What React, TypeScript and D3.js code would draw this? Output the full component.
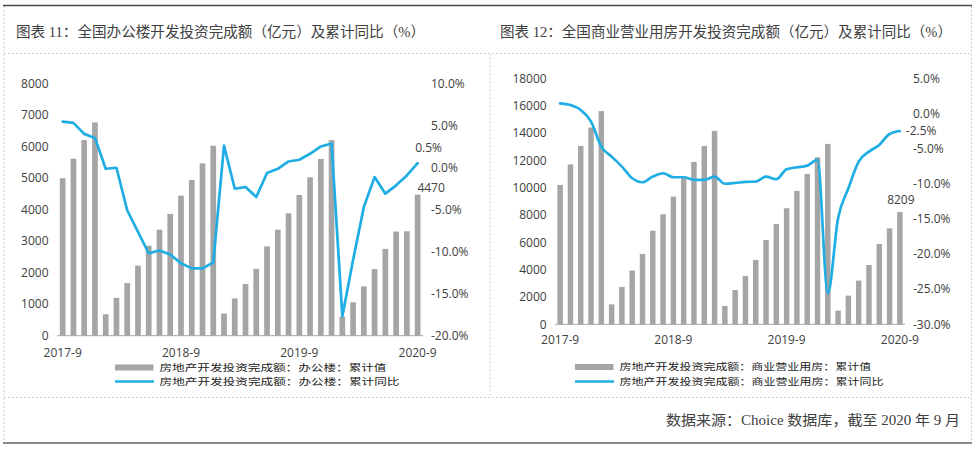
import React from "react";
import * as d3 from "d3";

const categories = [
  "2017-9", "2017-10", "2017-11", "2017-12",
  "2018-2", "2018-3", "2018-4", "2018-5", "2018-6", "2018-7", "2018-8", "2018-9", "2018-10", "2018-11", "2018-12",
  "2019-2", "2019-3", "2019-4", "2019-5", "2019-6", "2019-7", "2019-8", "2019-9", "2019-10", "2019-11", "2019-12",
  "2020-2", "2020-3", "2020-4", "2020-5", "2020-6", "2020-7", "2020-8", "2020-9",
];
const tickLabels = ["2017-9", "2018-9", "2019-9", "2020-9"];

const officeValue = [
  4990, 5610, 6200, 6760,
  680, 1200, 1670, 2220, 2850, 3360, 3860, 4440, 4940, 5460, 6020,
  700, 1180, 1640, 2120, 2830, 3360, 3880, 4460, 5020, 5600, 6200,
  600, 1060, 1560, 2110, 2750, 3300, 3310, 4470,
];
const officeYoY = [
  5.45, 5.29, 3.99, 3.51,
  -0.16, -0.04, -5.09, -7.66, -10.2, -9.87, -10.34, -11.4, -12.0, -12.0, -11.3,
  2.6, -2.53, -2.33, -3.51, -0.67, -0.16, 0.71, 0.91, 1.62, 2.49, 2.85,
  -17.7, -11.0, -4.7, -1.15, -3.12, -2.13, -0.95, 0.5,
];

const commValue = [
  10200, 11700, 13050, 14400, 15600,
  1460, 2730, 3930, 5150, 6850, 8050, 9340, 10680, 11880, 13050, 14150,
  1340, 2510, 3540, 4710, 6170, 7340, 8490, 9760, 11000, 12220, 13200,
  1000, 2100, 3200, 4340, 5880, 7020, 8209,
];
const commYoY = [
  1.44, 1.2, 0.49, -1.17, -4.72,
  -6.14, -7.56, -9.22, -9.79, -8.98, -8.51, -9.08, -9.08, -9.46, -9.46, -8.98,
  -10.0, -9.9, -9.74, -9.7, -8.98, -9.36, -7.94, -7.66, -7.42, -6.62, -25.6,
  -14.9, -10.65, -6.85, -5.43, -4.48, -2.92, -2.5,
];

const officeLeftTicks = [0, 1000, 2000, 3000, 4000, 5000, 6000, 7000, 8000];
const officeRightTicks = [10, 5, 0, -5, -10, -15, -20];
const commLeftTicks = [0, 2000, 4000, 6000, 8000, 10000, 12000, 14000, 16000, 18000];
const commRightTicks = [5, 0, -5, -10, -15, -20, -25, -30];

const titles = [
  "图表 11：全国办公楼开发投资完成额（亿元）及累计同比（%）",
  "图表 12：全国商业营业用房开发投资完成额（亿元）及累计同比（%）",
];
const legendOffice = ["房地产开发投资完成额：办公楼：累计值", "房地产开发投资完成额：办公楼：累计同比"];
const legendComm = ["房地产开发投资完成额：商业营业用房：累计值", "房地产开发投资完成额：商业营业用房：累计同比"];
const footer = "数据来源：Choice 数据库，截至 2020 年 9 月";

const BAR = "#a5a5a5";
const LINE = "#1eaee4";
const TXT = "#404040";
const AXF = "'Open Sans', 'Noto Sans', sans-serif";
const CJK = "'Noto Sans CJK SC', sans-serif";
const SERIF = "'Liberation Serif', 'Noto Sans CJK SC', serif";

const pct = (v: number) => v.toFixed(1) + "%";

type PanelProps = {
  values: number[];
  yoy: number[];
  x0: number; x1: number;
  yTop: number; yBot: number;
  leftDomain: [number, number];
  rightDomain: [number, number];
  leftTicks: number[];
  rightTicks: number[];
  leftLabelX: number;
  rightLabelX: number;
  tickY: number;
  curve: any;
  legend: string[];
  legendX: number;
  legendTextLen: number[];
  legendY: number[];
  lineLabel: { dx: number; dy: number; anchor: string };
  barLabel: { dx: number; dy: number };
};

function Panel(p: PanelProps) {
  const x = d3.scaleBand<string>().domain(categories).range([p.x0, p.x1]).padding(0);
  const step = x.step();
  const bw = step * 0.53;
  const cx = (i: number) => (x(categories[i]) as number) + step / 2;
  const yL = d3.scaleLinear().domain(p.leftDomain).range([p.yBot, p.yTop]);
  const yR = d3.scaleLinear().domain(p.rightDomain).range([p.yBot, p.yTop]);
  const line = d3.line<number>().x((_, i) => cx(i)).y((d) => yR(d)).curve(p.curve);
  const last = categories.length - 1;
  const tickIdx = tickLabels.map((t) => categories.indexOf(t));
  return (
    <g>
      {p.values.map((v, i) => (
        <rect key={i} x={cx(i) - bw / 2} y={yL(v)} width={bw} height={yL(0) - yL(v)} fill={BAR} />
      ))}
      <line x1={p.x0} x2={p.x1} y1={yL(0)} y2={yL(0)} stroke="#a6a6a6" strokeWidth={1} />
      <path d={line(p.yoy) || ""} fill="none" stroke={LINE} strokeWidth={2.7} strokeLinejoin="round" strokeLinecap="round" />
      {p.leftTicks.map((t) => (
        <text key={t} x={p.leftLabelX} y={yL(t)} dy="0.35em" textAnchor="end" fontFamily={AXF} fontSize={12} fill={TXT}>{t}</text>
      ))}
      {p.rightTicks.map((t) => (
        <text key={t} x={p.rightLabelX} y={yR(t)} dy="0.35em" textAnchor="start" fontFamily={AXF} fontSize={12} fill={TXT}>{pct(t)}</text>
      ))}
      {tickIdx.map((i, k) => (
        <text key={k} x={cx(i)} y={p.tickY} dy="0.35em" textAnchor="middle" fontFamily={AXF} fontSize={12} fill={TXT}>{tickLabels[k]}</text>
      ))}
      <text x={cx(last) + p.lineLabel.dx} y={yR(p.yoy[last]) + p.lineLabel.dy} dy="0.35em" textAnchor={p.lineLabel.anchor as any} fontFamily={AXF} fontSize={12} fill={TXT}>{pct(p.yoy[last])}</text>
      <text x={cx(last) + p.barLabel.dx} y={yL(p.values[last]) + p.barLabel.dy} dy="0.35em" textAnchor="middle" fontFamily={AXF} fontSize={12} fill={TXT}>{p.values[last]}</text>
      <rect x={p.legendX} y={p.legendY[0] - 3} width={38.5} height={6} fill={BAR} />
      <line x1={p.legendX} x2={p.legendX + 39} y1={p.legendY[1]} y2={p.legendY[1]} stroke={LINE} strokeWidth={2.6} />
      {p.legend.map((s, i) => (
        <text key={i} x={p.legendX + 44.5} y={p.legendY[i]} dy="0.36em" fontFamily={CJK} fontSize={9.4} fill="#222"
          textLength={p.legendTextLen[i]} lengthAdjust="spacingAndGlyphs">{s}</text>
      ))}
    </g>
  );
}

export default function App() {
  const W = 976, H = 450;
  return (
    <svg width={W} height={H} style={{ position: "absolute", left: 0, top: 0, background: "#fff" }}>
      <rect x={0} y={0} width={W} height={H} fill="#fff" />
      {/* frame */}
      <line x1={4} x2={4} y1={6} y2={442} stroke="#cfcfcf" strokeDasharray="2,2" />
      <line x1={971.5} x2={971.5} y1={6} y2={442} stroke="#cfcfcf" strokeDasharray="2,2" />
      <line x1={490} x2={490} y1={53.5} y2={397.5} stroke="#cfcfcf" strokeDasharray="2,2" />
      <line x1={4} x2={971.5} y1={53.5} y2={53.5} stroke="#cfcfcf" strokeDasharray="2,2" />
      <line x1={4} x2={971.5} y1={397.5} y2={397.5} stroke="#cfcfcf" strokeDasharray="2,2" />
      <line x1={3} x2={972} y1={5.5} y2={5.5} stroke="#4a4a4a" strokeWidth={1.3} />
      <line x1={3} x2={972} y1={443} y2={443} stroke="#8a8a8a" strokeWidth={2} />

      <text x={16} y={31.7} dy="0.36em" fontFamily={SERIF} fontSize={14.3} fill={TXT} textLength={409} lengthAdjust="spacingAndGlyphs">{titles[0]}</text>
      <text x={500} y={31.7} dy="0.36em" fontFamily={SERIF} fontSize={14.3} fill={TXT} textLength={452} lengthAdjust="spacingAndGlyphs">{titles[1]}</text>

      <Panel
        values={officeValue} yoy={officeYoY}
        x0={57.3} x1={423} yTop={83.3} yBot={335.7}
        leftDomain={[0, 8000]} rightDomain={[-20, 10]}
        leftTicks={officeLeftTicks} rightTicks={officeRightTicks}
        leftLabelX={48.5} rightLabelX={431} tickY={352.7}
        curve={d3.curveLinear}
        legend={legendOffice} legendX={115} legendTextLen={[227, 240]} legendY={[367.5, 381.5]}
        lineLabel={{ dx: 11, dy: -15, anchor: "middle" }}
        barLabel={{ dx: 13.5, dy: -7 }}
      />
      <Panel
        values={commValue} yoy={commYoY}
        x0={555} x1={905} yTop={78.3} yBot={324.3}
        leftDomain={[0, 18000]} rightDomain={[-30, 5]}
        leftTicks={commLeftTicks} rightTicks={commRightTicks}
        leftLabelX={546.7} rightLabelX={913} tickY={339.5}
        curve={d3.curveMonotoneX}
        legend={legendComm} legendX={575} legendTextLen={[251.7, 264]} legendY={[367, 381.5]}
        lineLabel={{ dx: 6, dy: 0, anchor: "start" }}
        barLabel={{ dx: 1, dy: -12 }}
      />

      <text x={960} y={420} dy="0.36em" textAnchor="end" fontFamily={SERIF} fontSize={14} fill={TXT} textLength={294} lengthAdjust="spacingAndGlyphs">{footer}</text>
    </svg>
  );
}
